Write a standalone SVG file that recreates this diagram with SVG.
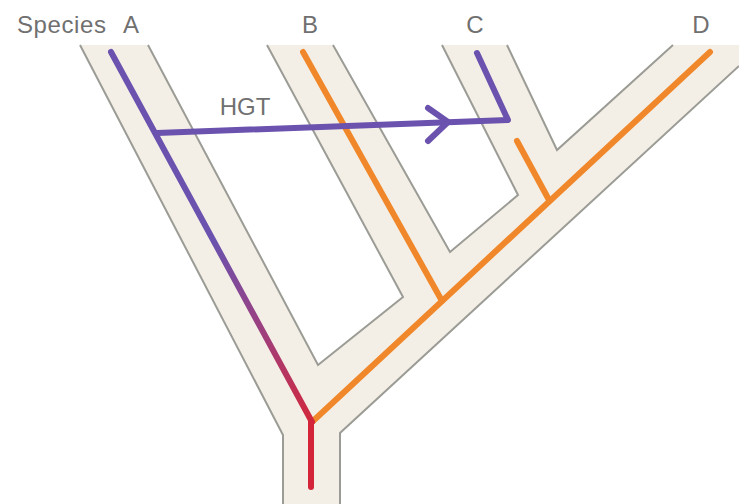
<svg xmlns="http://www.w3.org/2000/svg" width="739" height="504" viewBox="0 0 739 504">
<style>
.lbl{font-family:"Liberation Sans",Arial,sans-serif;font-size:24px;fill:#707070}
.edge{fill:none;stroke:#9c9c96;stroke-width:2;stroke-linejoin:miter}
.ln{fill:none;stroke-width:6;stroke-linecap:round;stroke-linejoin:round}
.or{stroke:#f0872a}
.pu{stroke:#6a52ae}
</style>
<defs>
<linearGradient id="gA" gradientUnits="userSpaceOnUse" x1="215" y1="240" x2="312" y2="422">
<stop offset="0" stop-color="#6a52ae"/>
<stop offset="0.5" stop-color="#9e3f7e"/>
<stop offset="1" stop-color="#d2283c"/>
</linearGradient>
</defs>
<rect width="739" height="504" fill="#ffffff"/>
<g id="tree">
<path d="M80,45 L283,435 L283,504 L340,504 L340,433 L739,66 L739,45 L673,45 L557,150 L507,45 L442,45 L518,195 L450,252 L333,45 L267,45 L403,297 L318,365 L148,45 Z" fill="#f3efe6"/>
<polyline class="edge" points="80,45 283,435 283,504"/>
<polyline class="edge" points="340,504 340,433 739,66"/>
<polyline class="edge" points="673,45 557,150 507,45"/>
<polyline class="edge" points="442,45 518,195 450,252 333,45"/>
<polyline class="edge" points="267,45 403,297 318,365 148,45"/>
</g>
<g id="connectors">
<line id="lineD" class="ln or" x1="710" y1="52" x2="312" y2="422"/>
<line id="lineB" class="ln or" x1="303" y1="52" x2="442" y2="301"/>
<line id="lineC-orange" class="ln or" x1="517" y1="141" x2="549" y2="200"/>
<line id="lineA" class="ln" stroke="url(#gA)" x1="111" y1="52" x2="312" y2="422"/>
<line id="root" class="ln" stroke="#d4243a" x1="311" y1="422" x2="311" y2="487"/>
<polyline id="hgt" class="ln pu" points="157,133 508,120 477,53"/>
<polyline id="hgt-arrow" class="ln pu" points="428,108 448,122 428,141"/>
</g>
<g id="labels">
<text class="lbl" x="17" y="33" letter-spacing="0.6">Species</text>
<text class="lbl" x="131" y="33" text-anchor="middle">A</text>
<text class="lbl" x="310" y="33" text-anchor="middle">B</text>
<text class="lbl" x="475" y="33" text-anchor="middle">C</text>
<text class="lbl" x="701" y="33" text-anchor="middle">D</text>
<text class="lbl" x="245" y="115" text-anchor="middle">HGT</text>
</g>
</svg>
